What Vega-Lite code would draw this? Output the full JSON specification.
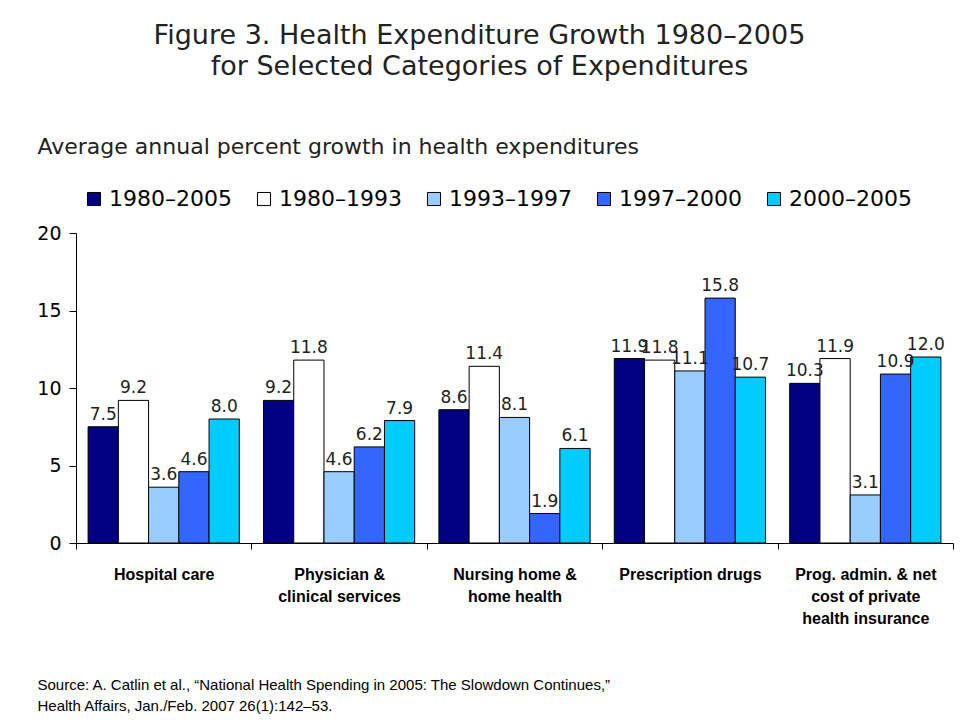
{
  "$schema": "https://vega.github.io/schema/vega-lite/v6.json",
  "width": 877,
  "height": 310,
  "autosize": {"type": "none"},
  "padding": {"left": 76, "top": 233, "right": 8, "bottom": 180},
  "background": "white",
  "title": {
    "text": ["Figure 3. Health Expenditure Growth 1980–2005", "for Selected Categories of Expenditures"],
    "anchor": "middle",
    "frame": "group",
    "font": "DejaVu Sans",
    "fontSize": 27,
    "fontWeight": "normal",
    "color": "#222222",
    "lineHeight": 31,
    "dx": -35,
    "dy": -54,
    "offset": 0
  },
  "data": {
    "values": [
      {"category": "Hospital care", "period": "1980–2005", "growth": 7.5},
      {"category": "Hospital care", "period": "1980–1993", "growth": 9.2},
      {"category": "Hospital care", "period": "1993–1997", "growth": 3.6},
      {"category": "Hospital care", "period": "1997–2000", "growth": 4.6},
      {"category": "Hospital care", "period": "2000–2005", "growth": 8.0},
      {"category": "Physician & clinical services", "period": "1980–2005", "growth": 9.2},
      {"category": "Physician & clinical services", "period": "1980–1993", "growth": 11.8},
      {"category": "Physician & clinical services", "period": "1993–1997", "growth": 4.6},
      {"category": "Physician & clinical services", "period": "1997–2000", "growth": 6.2},
      {"category": "Physician & clinical services", "period": "2000–2005", "growth": 7.9},
      {"category": "Nursing home & home health", "period": "1980–2005", "growth": 8.6},
      {"category": "Nursing home & home health", "period": "1980–1993", "growth": 11.4},
      {"category": "Nursing home & home health", "period": "1993–1997", "growth": 8.1},
      {"category": "Nursing home & home health", "period": "1997–2000", "growth": 1.9},
      {"category": "Nursing home & home health", "period": "2000–2005", "growth": 6.1},
      {"category": "Prescription drugs", "period": "1980–2005", "growth": 11.9},
      {"category": "Prescription drugs", "period": "1980–1993", "growth": 11.8},
      {"category": "Prescription drugs", "period": "1993–1997", "growth": 11.1},
      {"category": "Prescription drugs", "period": "1997–2000", "growth": 15.8},
      {"category": "Prescription drugs", "period": "2000–2005", "growth": 10.7},
      {"category": "Prog. admin. & net cost of private health insurance", "period": "1980–2005", "growth": 10.3},
      {"category": "Prog. admin. & net cost of private health insurance", "period": "1980–1993", "growth": 11.9},
      {"category": "Prog. admin. & net cost of private health insurance", "period": "1993–1997", "growth": 3.1},
      {"category": "Prog. admin. & net cost of private health insurance", "period": "1997–2000", "growth": 10.9},
      {"category": "Prog. admin. & net cost of private health insurance", "period": "2000–2005", "growth": 12.0}
    ]
  },
  "encoding": {
    "x": {
      "field": "category",
      "type": "nominal",
      "sort": null,
      "scale": {"paddingInner": 0, "paddingOuter": 0},
      "axis": {
        "labelAngle": 0,
        "labelFont": "Liberation Sans",
        "labelFontWeight": "bold",
        "labelFontSize": 16,
        "labelColor": "#000000",
        "labelLineHeight": 22,
        "labelPadding": 17,
        "labelBaseline": "top",
        "labelLimit": 200,
        "labelExpr": "datum.value == 'Physician & clinical services' ? ['Physician &', 'clinical services'] : datum.value == 'Nursing home & home health' ? ['Nursing home &', 'home health'] : datum.value == 'Prog. admin. & net cost of private health insurance' ? ['Prog. admin. & net', 'cost of private', 'health insurance'] : datum.value",
        "tickBand": "extent",
        "tickSize": 6,
        "tickColor": "#000000",
        "domainColor": "#000000",
        "title": ["Source: A. Catlin et al., “National Health Spending in 2005: The Slowdown Continues,”", "Health Affairs, Jan./Feb. 2007 26(1):142–53."],
        "titleFont": "Liberation Sans",
        "titleFontSize": 15,
        "titleFontWeight": "normal",
        "titleColor": "#000000",
        "titleAlign": "left",
        "titleAnchor": "start",
        "titleBaseline": "alphabetic",
        "titleLineHeight": 21,
        "titleX": -39,
        "titleY": 146
      }
    },
    "xOffset": {
      "field": "period",
      "type": "nominal",
      "sort": ["1980–2005", "1980–1993", "1993–1997", "1997–2000", "2000–2005"],
      "scale": {"paddingInner": 0, "paddingOuter": 0.4}
    },
    "y": {
      "field": "growth",
      "type": "quantitative",
      "scale": {"domain": [0, 20], "nice": false},
      "axis": {
        "values": [0, 5, 10, 15, 20],
        "grid": false,
        "labelFont": "DejaVu Sans",
        "labelFontSize": 19,
        "labelColor": "#000000",
        "labelPadding": 8,
        "tickSize": 7,
        "tickColor": "#000000",
        "domainColor": "#000000",
        "title": "Average annual percent growth in health expenditures",
        "titleFont": "DejaVu Sans",
        "titleFontSize": 22,
        "titleFontWeight": "normal",
        "titleColor": "#222222",
        "titleAngle": 0,
        "titleAlign": "left",
        "titleAnchor": "start",
        "titleBaseline": "alphabetic",
        "titleX": -39,
        "titleY": -80
      }
    }
  },
  "layer": [
    {
      "mark": {"type": "bar", "stroke": "#000000", "strokeWidth": 1},
      "encoding": {
        "color": {
          "field": "period",
          "type": "nominal",
          "scale": {
            "domain": ["1980–2005", "1980–1993", "1993–1997", "1997–2000", "2000–2005"],
            "range": ["#000080", "#FFFFFF", "#99CCFF", "#3366FF", "#00CCFF"]
          },
          "legend": {
            "title": null,
            "orient": "none",
            "legendX": 7,
            "legendY": -45,
            "direction": "horizontal",
            "columns": 5,
            "gridAlign": "all",
            "columnPadding": 21,
            "symbolType": "square",
            "symbolSize": 170,
            "symbolStrokeColor": "#000000",
            "symbolStrokeWidth": 1,
            "symbolOpacity": 1,
            "labelFont": "DejaVu Sans",
            "labelFontSize": 22,
            "labelColor": "#000000",
            "labelOffset": 4,
            "labelLimit": 300
          }
        }
      }
    },
    {
      "mark": {"type": "text", "baseline": "bottom", "dy": -3, "font": "DejaVu Sans", "fontSize": 17, "color": "#222222"},
      "encoding": {
        "text": {"field": "growth", "type": "quantitative", "format": ".1f"}
      }
    }
  ],
  "config": {
    "view": {"stroke": null}
  }
}
